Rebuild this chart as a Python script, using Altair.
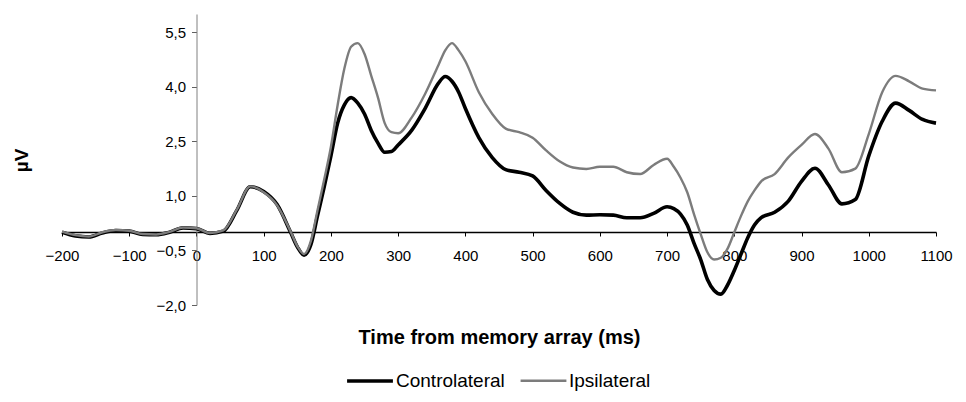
import altair as alt
import pandas as pd

# Time (ms) sample points
times = [-200, -180, -160, -140, -120, -100, -80, -60, -40, -20, 0, 20, 40, 60, 80, 100,
         120, 140, 150, 160, 170, 180, 190, 200, 210, 220, 230, 240, 250, 260, 270, 280,
         290, 300, 320, 340, 360, 370, 380, 390, 400, 420, 440, 460, 480, 500, 520, 540,
         560, 580, 600, 620, 640, 660, 680, 700, 710, 720, 730, 740, 750, 760, 770, 780,
         790, 800, 810, 820, 830, 840, 860, 880, 900, 920, 940, 960, 980, 1000, 1020,
         1040, 1060, 1080, 1100]

contralateral = [0.0, -0.1, -0.13, -0.02, 0.05, 0.03, -0.06, -0.07, 0.0, 0.12, 0.1, -0.03,
                 0.03, 0.6, 1.25, 1.12, 0.76, 0.0, -0.4, -0.63, -0.35, 0.45, 1.25, 2.1,
                 3.0, 3.5, 3.7, 3.55, 3.25, 2.8, 2.45, 2.2, 2.22, 2.4, 2.8, 3.4, 4.1, 4.28,
                 4.15, 3.85, 3.4, 2.6, 2.05, 1.72, 1.65, 1.55, 1.15, 0.8, 0.55, 0.47, 0.48,
                 0.47, 0.4, 0.4, 0.52, 0.7, 0.65, 0.5, 0.2, -0.3, -0.75, -1.3, -1.6, -1.7,
                 -1.45, -1.05, -0.6, -0.15, 0.2, 0.4, 0.55, 0.85, 1.4, 1.76, 1.3, 0.78, 0.9,
                 2.1, 3.05, 3.55, 3.35, 3.1, 3.0]

ipsilateral = [0.02, -0.08, -0.12, 0.0, 0.06, 0.04, -0.05, -0.06, 0.01, 0.13, 0.11, -0.02,
               0.05, 0.62, 1.26, 1.1, 0.74, 0.02, -0.38, -0.6, -0.25, 0.6, 1.45, 2.35,
               3.5, 4.5, 5.1, 5.2, 4.9, 4.3, 3.7, 3.0, 2.75, 2.72, 3.15, 3.8, 4.6, 5.0,
               5.2, 5.0, 4.7, 3.85, 3.25, 2.85, 2.75, 2.6, 2.25, 1.95, 1.78, 1.74, 1.8,
               1.8, 1.65, 1.6, 1.85, 2.02, 1.8, 1.5, 1.1, 0.5, -0.05, -0.55, -0.75, -0.7,
               -0.45, 0.0, 0.45, 0.85, 1.15, 1.4, 1.6, 2.05, 2.4, 2.7, 2.3, 1.65, 1.75,
               2.7, 3.85, 4.3, 4.15, 3.95, 3.9]

series_names = ["Controlateral", "Ipsilateral"]
series_colors = ["#000000", "#7c7c7c"]
series_widths = [3.6, 2.4]

x_ticks = [-200, -100, 0, 100, 200, 300, 400, 500, 600, 700, 800, 900, 1000, 1100]
y_ticks = [-2.0, -0.5, 1.0, 2.5, 4.0, 5.5]

rows = []
for i, t in enumerate(times):
    rows.append({"t": t, "v": contralateral[i], "series": series_names[0], "order": 0})
for i, t in enumerate(times):
    rows.append({"t": t, "v": ipsilateral[i], "series": series_names[1], "order": 1})
df = pd.DataFrame(rows)

FONT = "Liberation Sans"

legend = alt.Legend(
    orient="none", legendX=283, legendY=342, direction="horizontal", title=None,
    symbolType="stroke", symbolSize=2100, labelFontSize=19, labelFont=FONT,
    labelColor="#000000", labelOffset=1, columnPadding=10,
)

chart = alt.Chart(df).mark_line(interpolate="monotone").encode(
    x=alt.X("t:Q", scale=alt.Scale(domain=[-200, 1100], nice=False, zero=False),
            axis=alt.Axis(values=x_ticks, format="d", offset=-73, grid=False,
                          domainColor="#000000", domainWidth=1.5, tickColor="#000000",
                          tickSize=4, labelPadding=12, labelFontSize=15, labelFont=FONT,
                          labelColor="#000000", labelFlush=False, labelOverlap=False,
                          title="Time from memory array (ms)", titleFont=FONT,
                          titleFontSize=20, titleFontWeight="bold", titleColor="#000000",
                          titleY=105, titleX=437, titleBaseline="middle")),
    y=alt.Y("v:Q", scale=alt.Scale(domain=[-2.0, 6.0], nice=False, zero=False),
            axis=alt.Axis(values=y_ticks, offset=-134.5, grid=False,
                          labelExpr="replace(format(datum.value, '.1f'), '.', ',')",
                          domainColor="#808080", domainWidth=1, tickColor="#606060",
                          tickSize=5, labelPadding=6, labelFontSize=15, labelFont=FONT,
                          labelColor="#000000", labelOverlap=False,
                          title="µV", titleFont=FONT, titleFontSize=19,
                          titleFontWeight="bold", titleColor="#000000", titleAngle=270,
                          titleX=-175.5, titleY=146, titleBaseline="middle",
                          titleAlign="center")),
    color=alt.Color("series:N", scale=alt.Scale(domain=series_names, range=series_colors),
                    legend=legend),
    strokeWidth=alt.StrokeWidth("series:N",
                                scale=alt.Scale(domain=series_names, range=series_widths),
                                legend=legend),
    order=alt.Order("order:Q"),
).properties(
    width=874, height=291,
    autosize=alt.AutoSizeParams(type="none"),
    padding={"left": 54, "top": 6, "right": 22, "bottom": 89},
).configure_view(strokeWidth=0)

chart.save("out.html", embed_options={"renderer": "svg", "actions": False})
